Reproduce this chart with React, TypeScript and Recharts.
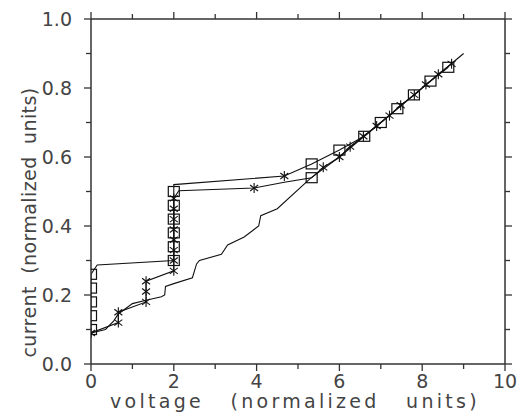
import React from 'react';
import { ComposedChart, Line, XAxis, YAxis } from 'recharts';

// Series with square markers ('s'), star markers ('*') or plain vertices ('')
const squareX = [0, 0, 0, 0, 0, 0.15, 2, 2, 2, 2, 2, 2, 2, 4.67, 5.33, 6.0, 6.6, 7.0, 7.4, 7.8, 8.2, 8.63];
const squareY = [0.10, 0.14, 0.18, 0.22, 0.26, 0.287, 0.30, 0.34, 0.38, 0.42, 0.46, 0.50, 0.52, 0.545, 0.58, 0.62, 0.66, 0.70, 0.74, 0.78, 0.82, 0.86];
const squareMarks = ['s', 's', 's', 's', 's', '', 's', 's', 's', 's', 's', 's', '', '*', 's', 's', 's', 's', 's', 's', 's', 's'];

const starX = [0, 0.66, 0.66, 1.33, 1.33, 1.33, 2, 2, 2, 2, 2, 2, 2, 2, 2.12, 3.94, 4.67, 5.33, 5.61, 6.0, 6.26, 6.58, 6.9, 7.21, 7.48, 7.81, 8.09, 8.39, 8.71];
const starY = [0.09, 0.12, 0.15, 0.18, 0.21, 0.24, 0.27, 0.30, 0.33, 0.36, 0.39, 0.42, 0.45, 0.48, 0.502, 0.51, 0.527, 0.54, 0.57, 0.60, 0.63, 0.66, 0.69, 0.72, 0.75, 0.78, 0.81, 0.84, 0.87];
const starMarks = ['*', '*', '*', '*', '*', '*', '*', '*', '*', '*', '*', '*', '*', '*', '', '*', '', 's', '*', '*', '*', '*', '*', '*', '*', '*', '*', '*', '*'];

const plainX = [0, 0.35, 0.55, 0.66, 1.0, 1.33, 1.7, 1.78, 1.8, 2.0, 2.45, 2.55, 2.62, 3.15, 3.3, 3.7, 4.05, 4.1, 4.5, 5.3, 6.0, 9.0];
const plainY = [0.09, 0.10, 0.125, 0.145, 0.175, 0.185, 0.195, 0.20, 0.225, 0.233, 0.25, 0.29, 0.30, 0.318, 0.345, 0.368, 0.40, 0.43, 0.45, 0.538, 0.60, 0.90];

const xTicks = [0, 1, 2, 3, 4, 5, 6, 7, 8, 9, 10];
const yTicks = [0, 0.1, 0.2, 0.3, 0.4, 0.5, 0.6, 0.7, 0.8, 0.9, 1.0];

const xTitle = 'voltage (normalized units)';
const yTitle = 'current (normalized units)';

const zip = (xs: number[], ys: number[], ms?: string[]) =>
  xs.map((x, i) => ({ x, y: ys[i], m: ms ? ms[i] : '' }));

const squareData = zip(squareX, squareY, squareMarks);
const starData = zip(starX, starY, starMarks);
const plainData = zip(plainX, plainY);

const INK = '#111';
const AXIS = '#333';
const TEXT = '#444';
const FONT = '"DejaVu Sans", sans-serif';

const renderDot = (props: any) => {
  const { cx, cy, index, payload } = props;
  const key = `dot-${index}`;
  if (cx == null || cy == null) return <g key={key} />;
  const m = payload?.m;
  if (m === 's') {
    return <rect key={key} x={cx - 5.5} y={cy - 5} width={11} height={10} fill="none" stroke={INK} strokeWidth={1.2} />;
  }
  if (m === '*') {
    const r = 5;
    const dx = r * 0.8;
    const dy = r * 0.6;
    return (
      <g key={key} stroke={INK} strokeWidth={1.1}>
        <line x1={cx} y1={cy - r} x2={cx} y2={cy + r} />
        <line x1={cx - dx} y1={cy - dy} x2={cx + dx} y2={cy + dy} />
        <line x1={cx - dx} y1={cy + dy} x2={cx + dx} y2={cy - dy} />
      </g>
    );
  }
  return <g key={key} />;
};

const isMajorX = (v: number) => Math.round(v) % 2 === 0;
const isMajorY = (v: number) => Math.round(v * 10) % 2 === 0;

const BottomTick = (props: any) => {
  const { x, y, payload } = props;
  const major = isMajorX(payload.value);
  return (
    <g>
      <line x1={x} y1={y} x2={x} y2={y + (major ? 7 : 5)} stroke={AXIS} strokeWidth={1.3} />
      {major && (
        <text x={x} y={y + 24} textAnchor="middle" fontFamily={FONT} fontSize={19} fill={TEXT}>
          {payload.value}
        </text>
      )}
    </g>
  );
};

const TopTick = (props: any) => {
  const { x, y, payload } = props;
  const major = isMajorX(payload.value);
  return <line x1={x} y1={y} x2={x} y2={y - (major ? 7 : 5)} stroke={AXIS} strokeWidth={1.3} />;
};

const LeftTick = (props: any) => {
  const { x, y, payload } = props;
  const major = isMajorY(payload.value);
  return (
    <g>
      <line x1={x} y1={y} x2={x - (major ? 7 : 5)} y2={y} stroke={AXIS} strokeWidth={1.3} />
      {major && (
        <text x={x - 19} y={y + 7} textAnchor="end" fontFamily={FONT} fontSize={19} fill={TEXT}>
          {Number(payload.value).toFixed(1)}
        </text>
      )}
    </g>
  );
};

const RightTick = (props: any) => {
  const { x, y, payload } = props;
  const major = isMajorY(payload.value);
  return <line x1={x} y1={y} x2={x + (major ? 7 : 5)} y2={y} stroke={AXIS} strokeWidth={1.3} />;
};

const XTitle = (props: any) => {
  const vb = props.viewBox || {};
  return (
    <text
      x={vb.x + vb.width / 2 - 3}
      y={vb.y + 44}
      textAnchor="middle"
      fontFamily={FONT}
      fontSize={19}
      fill={TEXT}
      letterSpacing={3.3}
      wordSpacing={17}
    >
      {xTitle}
    </text>
  );
};

const YTitle = (props: any) => {
  const vb = props.viewBox || {};
  const cx = vb.x + 36;
  const cy = vb.y + vb.height / 2 + 31;
  return (
    <text
      x={cx}
      y={cy}
      transform={`rotate(-90 ${cx} ${cy})`}
      textAnchor="middle"
      fontFamily={FONT}
      fontSize={19}
      fill={TEXT}
      letterSpacing={0.4}
      wordSpacing={6}
    >
      {yTitle}
    </text>
  );
};

export default function App() {
  return (
    <div style={{ position: 'absolute', left: 0, top: 0, background: '#fff' }}>
      <ComposedChart width={519} height={413} margin={{ top: 18, right: 13, bottom: 0, left: 0 }}>
        <XAxis
          xAxisId="b"
          dataKey="x"
          type="number"
          domain={[0, 10]}
          ticks={xTicks}
          allowDataOverflow
          orientation="bottom"
          height={49}
          tickSize={0}
          tickMargin={0}
          tickLine={false}
          axisLine={{ stroke: AXIS, strokeWidth: 1.5 }}
          tick={<BottomTick />}
          interval={0}
          label={{ content: <XTitle /> }}
        />
        <XAxis
          xAxisId="t"
          dataKey="x"
          type="number"
          domain={[0, 10]}
          ticks={xTicks}
          allowDataOverflow
          orientation="top"
          height={1}
          tickSize={0}
          tickMargin={0}
          tickLine={false}
          axisLine={{ stroke: AXIS, strokeWidth: 1.5 }}
          tick={<TopTick />}
          interval={0}
        />
        <YAxis
          yAxisId="l"
          type="number"
          domain={[0, 1]}
          ticks={yTicks}
          allowDataOverflow
          orientation="left"
          width={91}
          tickSize={0}
          tickMargin={0}
          tickLine={false}
          axisLine={{ stroke: AXIS, strokeWidth: 1.5 }}
          tick={<LeftTick />}
          interval={0}
          label={{ content: <YTitle /> }}
        />
        <YAxis
          yAxisId="r"
          type="number"
          domain={[0, 1]}
          ticks={yTicks}
          allowDataOverflow
          orientation="right"
          width={1}
          tickSize={0}
          tickMargin={0}
          tickLine={false}
          axisLine={{ stroke: AXIS, strokeWidth: 1.5 }}
          tick={<RightTick />}
          interval={0}
        />
        <Line
          xAxisId="t"
          yAxisId="r"
          data={plainData}
          dataKey="y"
          type="linear"
          stroke={INK}
          strokeWidth={1.1}
          dot={false}
          activeDot={false}
          isAnimationActive={false}
        />
        <Line
          xAxisId="b"
          yAxisId="l"
          data={starData}
          dataKey="y"
          type="linear"
          stroke={INK}
          strokeWidth={1.1}
          dot={renderDot}
          activeDot={false}
          isAnimationActive={false}
        />
        <Line
          xAxisId="b"
          yAxisId="l"
          data={squareData}
          dataKey="y"
          type="linear"
          stroke={INK}
          strokeWidth={1.1}
          dot={renderDot}
          activeDot={false}
          isAnimationActive={false}
        />
      </ComposedChart>
    </div>
  );
}
